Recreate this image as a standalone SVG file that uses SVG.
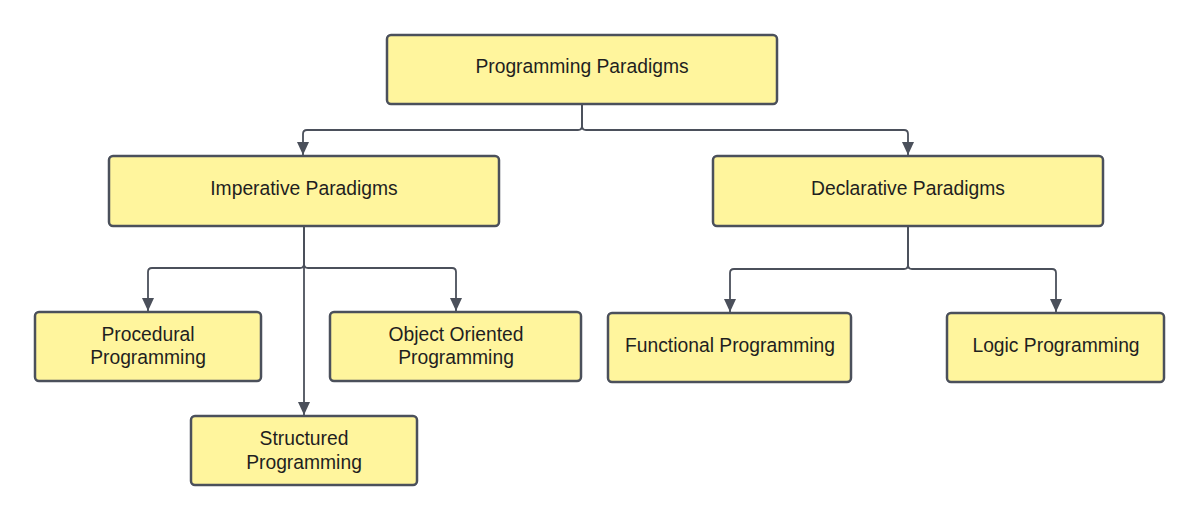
<svg xmlns="http://www.w3.org/2000/svg" width="1200" height="521" viewBox="0 0 1200 521">
<style>
.box{fill:#fff59d;stroke:#4b505b;stroke-width:2.5}
.lbl{font-family:"Liberation Sans",Arial,sans-serif;font-size:19.3px;fill:#1f1f1f;text-anchor:middle}
.con{fill:none;stroke:#4b505b;stroke-width:1.8}
</style>
<defs>
<marker id="arr" markerUnits="userSpaceOnUse" markerWidth="12" markerHeight="14" viewBox="0 0 12 14" refX="6" refY="13" orient="0">
<path d="M0 0 L12 0 L6 13 Z" fill="#4b505b"/>
</marker>
</defs>
<rect width="1200" height="521" fill="#ffffff"/>
<g id="connectors">
<path class="con" d="M582 104 V126 Q582 130 578 130 H307 Q303 130 303 134 V155" marker-end="url(#arr)"/>
<path class="con" d="M582 104 V126 Q582 130 586 130 H904 Q908 130 908 134 V155" marker-end="url(#arr)"/>
<path class="con" d="M304 226 V264 Q304 268 300 268 H152 Q148 268 148 272 V311" marker-end="url(#arr)"/>
<path class="con" d="M304 226 V264 Q304 268 308 268 H452 Q456 268 456 272 V311" marker-end="url(#arr)"/>
<path class="con" d="M304 226 V415" marker-end="url(#arr)"/>
<path class="con" d="M908 226 V265 Q908 269 904 269 H734 Q730 269 730 273 V312" marker-end="url(#arr)"/>
<path class="con" d="M908 226 V265 Q908 269 912 269 H1052 Q1056 269 1056 273 V312" marker-end="url(#arr)"/>
</g>
<g id="programming-paradigms">
<rect class="box" x="387" y="35" width="390" height="69" rx="4"/>
<text class="lbl" x="582" y="73">Programming Paradigms</text>
</g>
<g id="imperative-paradigms">
<rect class="box" x="109" y="156" width="390" height="70" rx="4"/>
<text class="lbl" x="304" y="195">Imperative Paradigms</text>
</g>
<g id="declarative-paradigms">
<rect class="box" x="713" y="156" width="390" height="70" rx="4"/>
<text class="lbl" x="908" y="195">Declarative Paradigms</text>
</g>
<g id="procedural-programming">
<rect class="box" x="35" y="312" width="226" height="69" rx="4"/>
<text class="lbl" x="148" y="341">Procedural</text>
<text class="lbl" x="148" y="364">Programming</text>
</g>
<g id="object-oriented-programming">
<rect class="box" x="330" y="312" width="251" height="69" rx="4"/>
<text class="lbl" x="456" y="341">Object Oriented</text>
<text class="lbl" x="456" y="364">Programming</text>
</g>
<g id="structured-programming">
<rect class="box" x="191" y="416" width="226" height="69" rx="4"/>
<text class="lbl" x="304" y="445">Structured</text>
<text class="lbl" x="304" y="469">Programming</text>
</g>
<g id="functional-programming">
<rect class="box" x="608" y="313" width="243" height="69" rx="4"/>
<text class="lbl" x="730" y="352">Functional Programming</text>
</g>
<g id="logic-programming">
<rect class="box" x="947" y="313" width="217" height="69" rx="4"/>
<text class="lbl" x="1056" y="352">Logic Programming</text>
</g>
</svg>
